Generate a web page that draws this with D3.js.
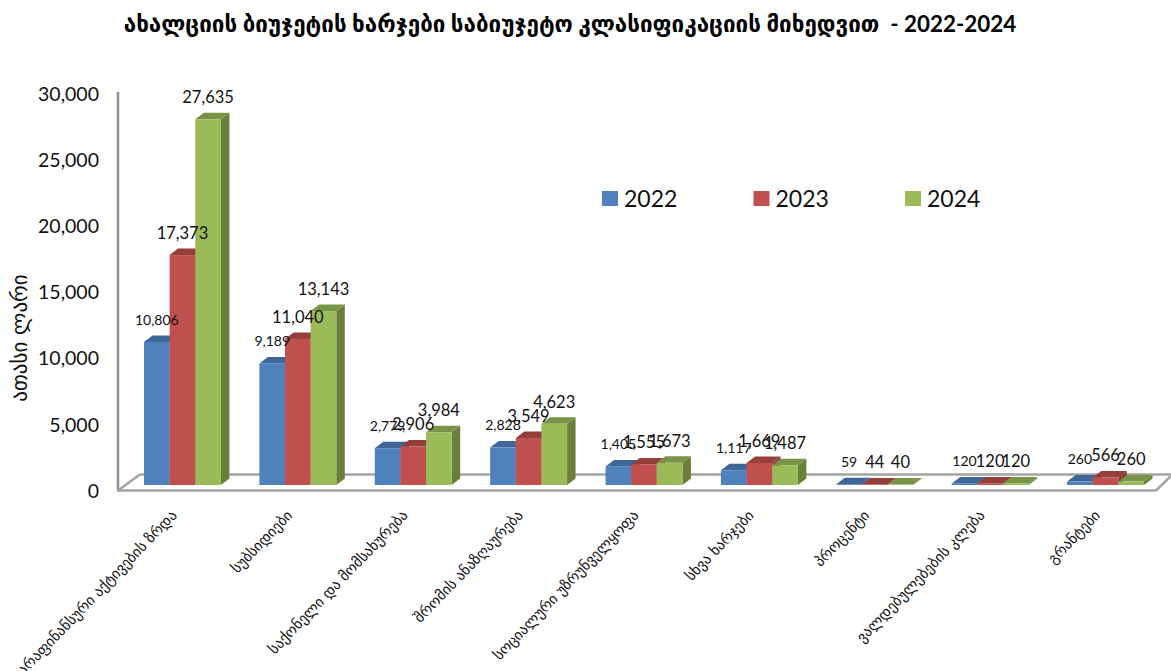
<!DOCTYPE html>
<html>
<head>
<meta charset="utf-8">
<script src="https://cdn.jsdelivr.net/npm/d3@7"></script>
<style>
  html, body { margin: 0; padding: 0; background: #fff; }
  svg { display: block; }
</style>
</head>
<body>
<script>
const titleText = "ახალციის ბიუჯეტის ხარჯები საბიუჯეტო კლასიფიკაციის მიხედვით  - 2022-2024";
const yLabel = "ათასი ლარი";
const categories = ["არაფინანსური აქტივების ზრდა", "სუბსიდიები", "საქონელი და მომსახურება", "შრომის ანაზღაურება", "სოციალური უზრუნველყოფა", "სხვა ხარჯები", "პროცენტი", "ვალდებულებების კლება", "გრანტები"];
const years = ["2022", "2023", "2024"];
const values2022 = [10806, 9189, 2779, 2828, 1405, 1117, 59, 120, 260];
const values2023 = [17373, 11040, 2906, 3549, 1555, 1669, 44, 120, 566];
const values2024 = [27635, 13143, 3984, 4623, 1673, 1487, 40, 120, 260];
const yTicks = [0, 5000, 10000, 15000, 20000, 25000, 30000];

const width = 1171, height = 671;
const depthX = 8.5, depthY = 6.5;
const font = "Lato, 'Noto Sans', sans-serif";
const geoFont = "'DejaVu Sans', sans-serif";

const front = ["#4f81bd", "#c0504d", "#9bbb59"];
const top_ = ["#3e6797", "#953f3d", "#7a9447"];
const side = ["#3a5f8c", "#8a3a38", "#6b7f3a"];

const series = years.map((year, i) => ({
  year, i,
  values: [values2022, values2023, values2024][i]
}));

const svg = d3.select("body").append("svg")
  .attr("width", width)
  .attr("height", height);

const x0 = d3.scaleBand()
  .domain(categories)
  .range([144, 1144])
  .paddingInner(1 / 3)
  .paddingOuter(0);

const x1 = d3.scaleBand()
  .domain(years)
  .range([0, x0.bandwidth()]);

const y = d3.scaleLinear()
  .domain([0, 30000])
  .range([485, 88]);

// title
svg.append("text")
  .attr("x", 570)
  .attr("y", 32)
  .attr("text-anchor", "middle")
  .style("font-family", "Lato, 'DejaVu Sans', sans-serif")
  .style("font-weight", "bold")
  .style("font-size", "22.4px")
  .style("white-space", "pre")
  .attr("xml:space", "preserve")
  .text(titleText);

// walls and floor
const wall = svg.append("g")
  .attr("fill", "none")
  .attr("stroke", "#a3a3a3")
  .attr("stroke-width", 2.5);
wall.append("line").attr("x1", 118).attr("x2", 118).attr("y1", 92).attr("y2", 491).attr("stroke", "#8f8f8f");
wall.append("line").attr("x1", 117).attr("x2", 1156).attr("y1", 490.5).attr("y2", 490.5);
wall.append("line").attr("x1", 118).attr("x2", 140).attr("y1", 490.5).attr("y2", 474.5);
wall.append("line").attr("x1", 140).attr("x2", 1171).attr("y1", 474.5).attr("y2", 474.5);
wall.append("line").attr("x1", 1156).attr("x2", 1171).attr("y1", 490.5).attr("y2", 476);

// bars, back to front
const groups = svg.append("g")
  .selectAll("g")
  .data(categories)
  .join("g")
    .attr("transform", d => `translate(${x0(d)},0)`);

const bars = groups.selectAll("g")
  .data((d, c) => series.map(s => ({ year: s.year, i: s.i, value: s.values[c] })))
  .join("g");

bars.append("polygon")
  .attr("fill", d => side[d.i])
  .attr("points", d => {
    const r = x1(d.year) + x1.bandwidth();
    return [[r, y(d.value)], [r + depthX, y(d.value) - depthY], [r + depthX, y(0) - depthY], [r, y(0)]].join(" ");
  });

bars.append("polygon")
  .attr("fill", d => top_[d.i])
  .attr("points", d => {
    const l = x1(d.year), r = l + x1.bandwidth();
    return [[l, y(d.value)], [l + depthX, y(d.value) - depthY], [r + depthX, y(d.value) - depthY], [r, y(d.value)]].join(" ");
  });

bars.append("rect")
  .attr("fill", d => front[d.i])
  .attr("x", d => x1(d.year))
  .attr("y", d => y(d.value))
  .attr("width", x1.bandwidth())
  .attr("height", d => y(0) - y(d.value));

// data labels on top of everything
groups.selectAll("text")
  .data((d, c) => series.map(s => ({ year: s.year, i: s.i, value: s.values[c] })))
  .join("text")
    .attr("x", d => x1(d.year) + x1.bandwidth() / 2)
    .attr("y", d => y(d.value) - 22)
    .attr("dy", "0.35em")
    .attr("text-anchor", "middle")
    .style("font-family", font)
    .style("font-size", d => d.i == 0 ? "14px" : "16.5px")
    .style("fill", "#111")
    .text(d => d3.format(",")(d.value));

// y axis
const yAxis = d3.axisLeft(y)
  .tickValues(yTicks)
  .tickSize(0)
  .tickFormat(d3.format(","));

svg.append("g")
  .attr("transform", "translate(102,6)")
  .call(yAxis)
  .call(g => g.select(".domain").remove())
  .selectAll("text")
    .style("font-family", font)
    .style("font-size", "19.5px")
    .style("fill", "#111");

// x axis, rotated labels
const xAxis = d3.axisBottom(x0)
  .tickSize(0)
  .tickPadding(0);

svg.append("g")
  .attr("transform", "translate(-12,509)")
  .call(xAxis)
  .call(g => g.select(".domain").remove())
  .selectAll("text")
    .attr("text-anchor", "end")
    .attr("dy", "0.7em")
    .attr("transform", "rotate(-46)")
    .style("font-family", geoFont)
    .style("font-size", "14.7px")
    .style("fill", "#111");

// y axis title
svg.append("text")
  .attr("transform", "translate(27,338) rotate(-90)")
  .attr("text-anchor", "middle")
  .style("font-family", geoFont)
  .style("font-size", "21px")
  .style("fill", "#111")
  .text(yLabel);

// legend
const legendX = d3.scalePoint()
  .domain(years)
  .range([602, 905]);

const legend = svg.append("g")
  .selectAll("g")
  .data(years)
  .join("g")
    .attr("transform", d => `translate(${legendX(d)},191)`);

legend.append("rect")
  .attr("width", 16)
  .attr("height", 15)
  .attr("fill", (d, i) => front[i]);

legend.append("text")
  .attr("x", 22)
  .attr("y", 16)
  .style("font-family", font)
  .style("font-size", "23px")
  .style("fill", "#111")
  .text(d => d);
</script>
</body>
</html>
